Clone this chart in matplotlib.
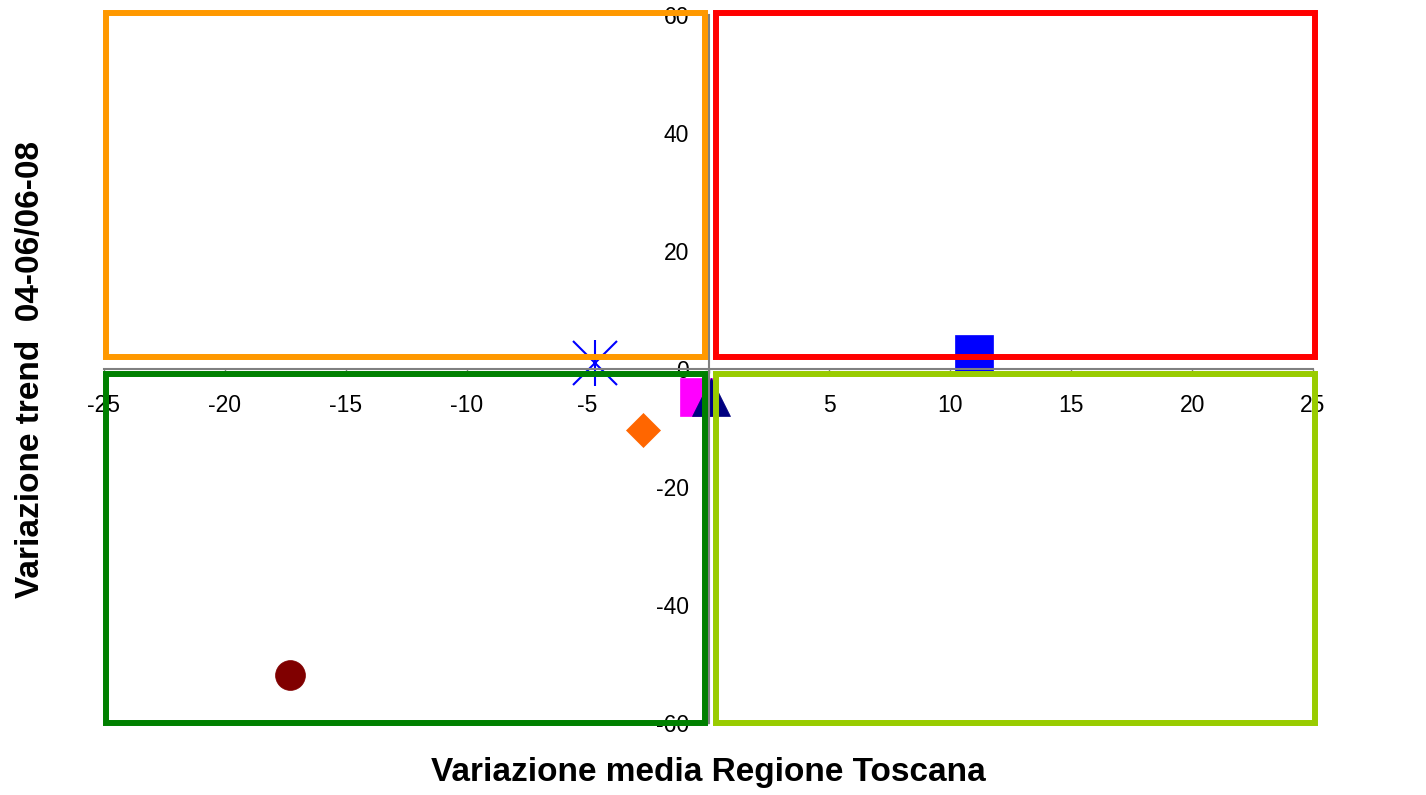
import matplotlib
matplotlib.use("Agg")
import matplotlib.pyplot as plt
from matplotlib.patches import Rectangle

plt.rcParams["font.family"] = ["Liberation Sans", "DejaVu Sans"]
plt.rcParams["axes.unicode_minus"] = False

# punti (variazione media, variazione trend)
punti_x = [-17.3, -2.7, -0.4, 0.1, 11.0]
punti_y = [-51.8, -10.3, -4.8, -4.7, 2.5]
marker_tipo = ["o", "D", "s", "^", "s"]
marker_col = ["#800000", "#FF6600", "#FF00FF", "#000080", "#0000FF"]
marker_dim = [21.5, 17, 28, 28, 27]

# asterisco blu
stella_x = [-4.7]
stella_y = [1.1]

# riquadri dei quadranti: (x0, y0, x1, y1)
quadranti = [(-24.9, 2.0, -0.15, 60.3), (0.3, 2.0, 25.1, 60.3),
             (-24.9, -60.0, -0.15, -0.85), (0.3, -60.0, 25.1, -0.85)]
col_quadranti = ["#FF9900", "#FF0000", "#008000", "#99CC00"]

xticks = list(range(-25, 26, 5))
yticks = list(range(-60, 61, 20))

fig = plt.figure(figsize=(14.26, 7.95), dpi=100)
ax = fig.add_axes([104 / 1426, 1 - 723 / 795, 1209 / 1426, 708 / 795])
ax.set_xlim(-25, 25)
ax.set_ylim(-60, 60)

for i in range(len(punti_x)):
    ax.plot(punti_x[i], punti_y[i], marker=marker_tipo[i], color=marker_col[i],
            markersize=marker_dim[i], markeredgewidth=0.5, linestyle="none",
            zorder=2, clip_on=False)
ax.plot(stella_x, stella_y, marker="x", color="#0000FF", markersize=31,
        markeredgewidth=1.5, linestyle="none", zorder=2)
ax.plot(stella_x, stella_y, marker="|", color="#0000FF", markersize=33,
        markeredgewidth=1.5, linestyle="none", zorder=2)

for (x0, y0, x1, y1), c in zip(quadranti, col_quadranti):
    ax.add_patch(Rectangle((x0, y0), x1 - x0, y1 - y0, fill=False,
                           edgecolor=c, linewidth=4.3, zorder=3, clip_on=False))

for lato in ["top", "right"]:
    ax.spines[lato].set_visible(False)
ax.spines["left"].set_position(("data", 0))
ax.spines["bottom"].set_position(("data", 0))
for lato in ["left", "bottom"]:
    ax.spines[lato].set_color("#808080")
    ax.spines[lato].set_linewidth(1.5)

ax.set_xticks(xticks)
ax.set_yticks(yticks)
ax.tick_params(axis="both", direction="out", length=3, width=1,
               color="#808080", labelsize=16.5)
ax.tick_params(axis="x", pad=15)
ax.tick_params(axis="y", pad=11)

fig.text(708 / 1426, 1 - 773 / 795, "Variazione media Regione Toscana",
         ha="center", va="center", fontsize=24, fontweight="bold")
fig.text(31 / 1426, 1 - 370 / 795, "Variazione trend  04-06/06-08",
         ha="center", va="center", rotation=90, fontsize=24, fontweight="bold")

fig.savefig("out.png", dpi=100)
